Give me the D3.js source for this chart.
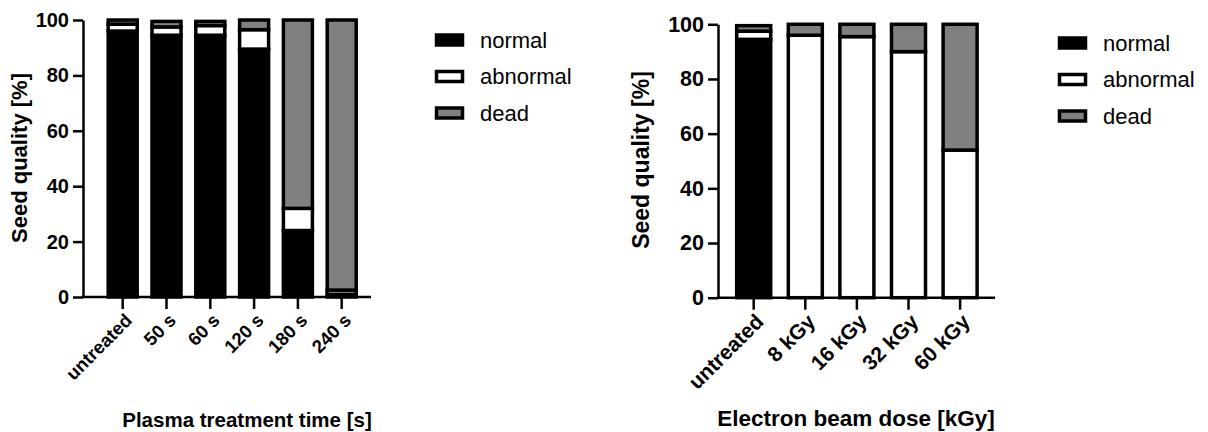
<!DOCTYPE html>
<html>
<head>
<meta charset="utf-8">
<style>
*{
  margin: 0;
  padding: 0;
}
body{
  background: #fff;
  font-family: "Liberation Sans", Arial, sans-serif;
}
</style>
</head>
<body>
<svg id="fig"></svg>

<script src="https://cdn.jsdelivr.net/npm/d3@7"></script>
<script>
// data
var keys = ['normal', 'abnormal', 'dead'];
var colors = ['#000000', '#ffffff', '#808080'];
var yTicks = [0, 20, 40, 60, 80, 100];

var plasmaCats = ['untreated', '50 s', '60 s', '120 s', '180 s', '240 s'];
var plasmaNormal = [96, 94.5, 94.5, 89.5, 24, 1];
var plasmaAbnormal = [2.5, 3, 3.5, 7, 8, 1.5];
var plasmaDead = [1.5, 2, 1.5, 3.5, 68, 97.5];

var ebeamCats = ['untreated', '8 kGy', '16 kGy', '32 kGy', '60 kGy'];
var ebeamNormal = [94.5, 0, 0, 0, 0];
var ebeamAbnormal = [3, 96, 95.5, 90, 54];
var ebeamDead = [2, 4, 4.5, 10, 46];

var svg = d3.select('#fig')
    .attr('width', 1208)
    .attr('height', 432);

function stackedChart(opt) {
    var rows = opt.cats.map(function (c, i) {
        return {cat: c, normal: opt.normal[i], abnormal: opt.abnormal[i], dead: opt.dead[i]};
    });
    var series = d3.stack().keys(keys)(rows);

    var x = d3.scaleBand().domain(opt.cats)
        .range(opt.xRange)
        .paddingInner(opt.pad)
        .paddingOuter(opt.pad / 2);
    var y = d3.scaleLinear().domain([0, 100]).range(opt.yRange);

    var g = svg.append('g');

    // bars
    g.selectAll('.layer').data(series)
        .enter().append('g')
        .attr('class', 'layer')
        .attr('fill', function (d, i) { return colors[i]; })
        .selectAll('rect').data(function (d) { return d; })
        .enter().append('rect')
        .attr('x', function (d) { return x(d.data.cat); })
        .attr('y', function (d) { return y(d[1]); })
        .attr('width', x.bandwidth())
        .attr('height', function (d) { return y(d[0]) - y(d[1]); })
        .attr('stroke', '#000')
        .attr('stroke-width', 3.5);

    // y axis
    var ya = g.append('g')
        .attr('transform', 'translate(' + opt.axisX + ',0)')
        .call(d3.axisLeft(y).tickValues(yTicks).tickSize(10).tickSizeOuter(0).tickPadding(4));
    ya.selectAll('line, path').attr('stroke', '#000').attr('stroke-width', 2.5);
    ya.selectAll('text')
        .attr('font-family', '"Liberation Sans", Arial, sans-serif')
        .attr('font-weight', 'bold')
        .attr('font-size', opt.tickFont)
        .attr('fill', '#000');

    // x axis
    var xa = g.append('g')
        .attr('transform', 'translate(0,' + opt.yRange[0] + ')')
        .call(d3.axisBottom(x).tickSize(12).tickSizeOuter(0));
    xa.select('.domain').remove();
    xa.selectAll('line').attr('stroke', '#000').attr('stroke-width', 2.5);
    xa.selectAll('text')
        .attr('font-family', '"Liberation Sans", Arial, sans-serif')
        .attr('font-weight', 'bold')
        .attr('font-size', opt.xTickFont)
        .attr('fill', '#000')
        .attr('text-anchor', 'end')
        .attr('x', 0).attr('y', 0).attr('dy', '0.35em')
        .attr('transform', 'translate(' + opt.labOff[0] + ',' + opt.labOff[1] + ') rotate(-45)');
    g.append('line')
        .attr('x1', opt.axisX - 1.25).attr('x2', opt.axisEnd)
        .attr('y1', opt.yRange[0]).attr('y2', opt.yRange[0])
        .attr('stroke', '#000').attr('stroke-width', 2.5);

    // titles
    g.append('text')
        .attr('x', opt.xTitle[0]).attr('y', opt.xTitle[1])
        .attr('text-anchor', 'middle')
        .attr('font-weight', 'bold')
        .attr('font-size', opt.titleFont)
        .text(opt.xLabel);
    g.append('text')
        .attr('transform', 'translate(' + opt.yTitle[0] + ',' + opt.yTitle[1] + ') rotate(-90)')
        .attr('text-anchor', 'middle')
        .attr('font-weight', 'bold')
        .attr('font-size', opt.yTitleFont)
        .text('Seed quality [%]');

    // legend
    var lg = g.selectAll('.leg').data(keys)
        .enter().append('g')
        .attr('class', 'leg')
        .attr('transform', function (d, i) {
            return 'translate(' + opt.legX + ',' + (opt.legY + i * opt.legStep) + ')';
        });
    lg.append('rect')
        .attr('x', 1.5).attr('y', -5)
        .attr('width', 26).attr('height', 10)
        .attr('fill', function (d, i) { return colors[i]; })
        .attr('stroke', '#000').attr('stroke-width', 3.5);
    lg.append('text')
        .attr('x', 45).attr('dy', '0.35em')
        .attr('font-size', opt.legFont)
        .text(function (d) { return d; });
}

stackedChart({
    cats: plasmaCats, normal: plasmaNormal, abnormal: plasmaAbnormal, dead: plasmaDead,
    xRange: [100.8, 363.6], pad: 0.338, yRange: [297, 20],
    axisX: 83, axisEnd: 371,
    tickFont: 20, xTickFont: 18.5, titleFont: 20.5, yTitleFont: 22,
    labOff: [6, 20],
    xLabel: 'Plasma treatment time [s]', xTitle: [247, 427], yTitle: [27, 158],
    legX: 435, legY: 40, legStep: 36.5, legFont: 22
});

stackedChart({
    cats: ebeamCats, normal: ebeamNormal, abnormal: ebeamAbnormal, dead: ebeamDead,
    xRange: [727.9, 985.9], pad: 0.341, yRange: [297.7, 24.3],
    axisX: 718, axisEnd: 995,
    tickFont: 21.5, xTickFont: 21, titleFont: 22.5, yTitleFont: 23,
    labOff: [6, 20],
    xLabel: 'Electron beam dose [kGy]', xTitle: [856, 426], yTitle: [649, 160],
    legX: 1058, legY: 43, legStep: 36.5, legFont: 22
});
</script>
</body>
</html>
